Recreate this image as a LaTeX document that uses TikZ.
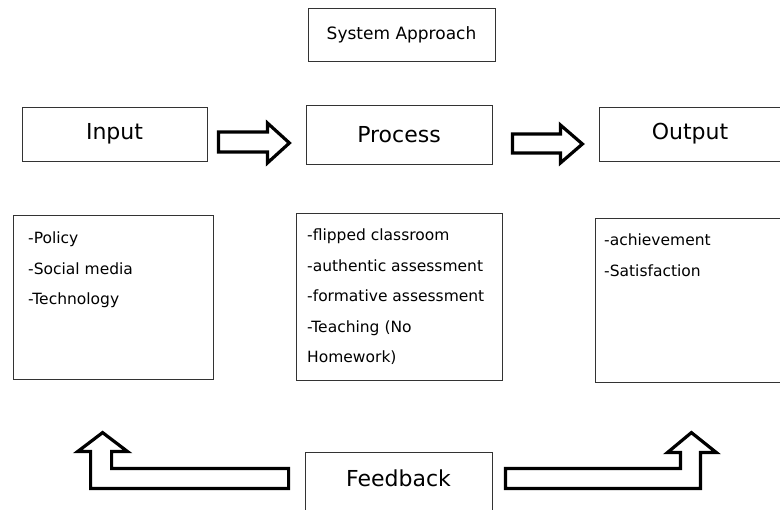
\documentclass[tikz,border=0pt]{standalone}
\usepackage{fontspec}
\setmainfont{DejaVu Sans}
\usepackage{tikz}
\usetikzlibrary{positioning}

\begin{document}
\begin{tikzpicture}[x=1pt, y=-1pt]
\tikzstyle{label} = [rectangle, draw=black!80, line width=0.8pt, inner sep=0pt]
\tikzstyle{block} = [label, minimum width=185pt, minimum height=54pt,
    font=\fontsize{22}{26}\selectfont]
\tikzstyle{list} = [label, anchor=north west]
\tikzstyle{items} = [anchor=north west, align=left, inner sep=0pt,
    font=\fontsize{15.5}{30.5}\selectfont]
\tikzstyle{hollow} = [draw=black, line width=3.2pt, fill=white, line join=miter]

 \useasboundingbox (0,0) rectangle (780,510);

 \node [label, minimum width=187pt, minimum height=53pt,
   font=\fontsize{17}{20}\selectfont] (sysapp) at (401.5,34.5) {System Approach};

 \node [block] (input) at (114.5,134) {Input};
 \node [block, minimum width=186pt, minimum height=59pt] (process) at (399,134.5) {Process};
 \node [block, minimum width=184pt] (output) at (691,134) {\hspace*{-2pt}Output};

 \node [list, minimum width=200pt, minimum height=164pt] (inbox) at (13,215) {};
 \node [list, minimum width=206pt, minimum height=167pt] (procbox) at (296,213) {};
 \node [list, minimum width=190pt, minimum height=164pt] (outbox) at (595,218) {};

 \node [items] (inlist) at ([shift={(15,17)}]inbox.north west)
   {-Policy\\-Social media\\-Technology};
 \node [items] (proclist) at ([shift={(11,16)}]procbox.north west)
   {-flipped classroom\\-authentic assessment\\-formative assessment\\-Teaching (No\\Homework)};
 \node [items] (outlist) at ([shift={(9,16)}]outbox.north west)
   {-achievement\\-Satisfaction};

 \node [block, minimum width=187pt, minimum height=68pt,
   text height=16pt, text depth=14pt] (feedback) at (398.5,486) {Feedback};

 % arrows along the top row
 \draw [hollow, shift={(input.east)}]
   (11,-2) -- (60,-2) -- (60,-11) -- (82,9) -- (60,29) -- (60,18) -- (11,18) -- cycle;
 \draw [hollow, shift={(process.east)}]
   (20,-0.5) -- (68,-0.5) -- (68,-9.5) -- (90,9.5) -- (68,28.5) -- (68,18.5) -- (20,18.5) -- cycle;

 % feedback back to input and output
 \draw [hollow, shift={(feedback.north west)}]
   (-16,17) -- (-193,17) -- (-193,0) -- (-177,0) -- (-202,-19) -- (-227,0)
   -- (-214,0) -- (-214,37) -- (-16,37) -- cycle;
 \draw [hollow, shift={(feedback.north east)}]
   (13,17) -- (188,17) -- (188,1) -- (175,1) -- (199,-19) -- (224,1)
   -- (208,1) -- (208,37) -- (13,37) -- cycle;
\end{tikzpicture}
\end{document}
